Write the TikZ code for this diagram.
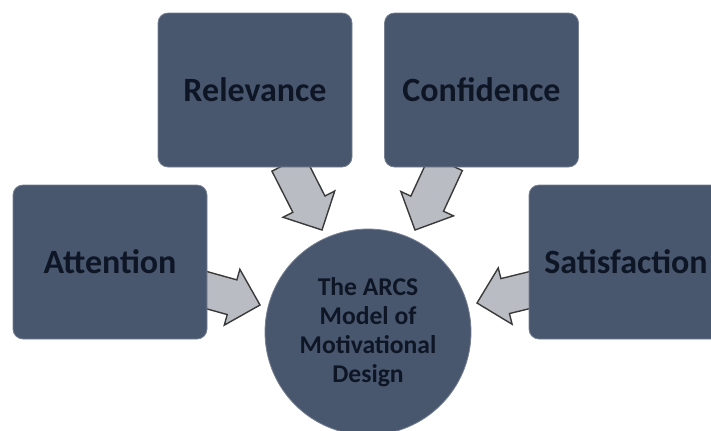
\documentclass[tikz,border=0pt]{standalone}
\usepackage{fontspec}
\setmainfont{Carlito}
\usetikzlibrary{calc,backgrounds}
\definecolor{boxblue}{HTML}{48566E}
\definecolor{inkblue}{HTML}{0E1626}
\definecolor{arrowgray}{HTML}{B9BCC2}
\definecolor{arrowedge}{HTML}{3A3A3A}
\tikzstyle{factor}=[rectangle, rounded corners=5pt, fill=boxblue, draw=boxblue!75!white, line width=0.4pt,
  minimum width=97pt, minimum height=77pt, text=inkblue, font=\bfseries\fontsize{17}{20}\selectfont]
\tikzstyle{model}=[circle, fill=boxblue, draw=boxblue!75!white, line width=0.4pt, minimum size=103pt,
  inner sep=0pt, align=center, text=inkblue, font=\bfseries\fontsize{12.8}{14.5}\selectfont]
% block arrow from #1 (tail) to #2 (tip)
\newcommand{\blockarrow}[2]{%
  \coordinate (hb) at ($(#2)!14.5pt!(#1)$);
  \filldraw[fill=arrowgray, draw=arrowedge, line width=0.7pt, line join=miter]
    ($(#1)!9pt!90:(#2)$) -- ($(hb)!9pt!-90:(#1)$) -- ($(hb)!14.5pt!-90:(#1)$) -- (#2)
    -- ($(hb)!14.5pt!90:(#1)$) -- ($(hb)!9pt!90:(#1)$) -- ($(#1)!9pt!-90:(#2)$) -- cycle;}

\begin{document}
\begin{tikzpicture}[x=0.5pt, y=-0.5pt]
    \useasboundingbox (0,0) rectangle (711,430);
    \clip (0,0) rectangle (711,430);
% Factors
    \node[factor] (att) at (110,262) {Attention};
    \node[factor] (rel) at (255,90) {Relevance};
    \node[factor] (con) at (481.5,90) {Confidence};
    \node[factor] (sat) at (626,262) {Satisfaction};
% Model
    \node[model] (core) at (368,332) {The ARCS\\Model of\\Motivational\\Design};
% Arrow ends
    \coordinate (attOut) at (199,288);
    \coordinate (attIn) at (260,305);
    \coordinate (relOut) at (288,163);
    \coordinate (relIn) at (322,230);
    \coordinate (conOut) at (446,163);
    \coordinate (conIn) at (415,230);
    \coordinate (satOut) at (538,288);
    \coordinate (satIn) at (477,303);
% Arrows
    \begin{scope}[on background layer]
    \blockarrow{attOut}{attIn}
    \blockarrow{relOut}{relIn}
    \blockarrow{conOut}{conIn}
    \blockarrow{satOut}{satIn}
    \end{scope}
\end{tikzpicture}
\end{document}
